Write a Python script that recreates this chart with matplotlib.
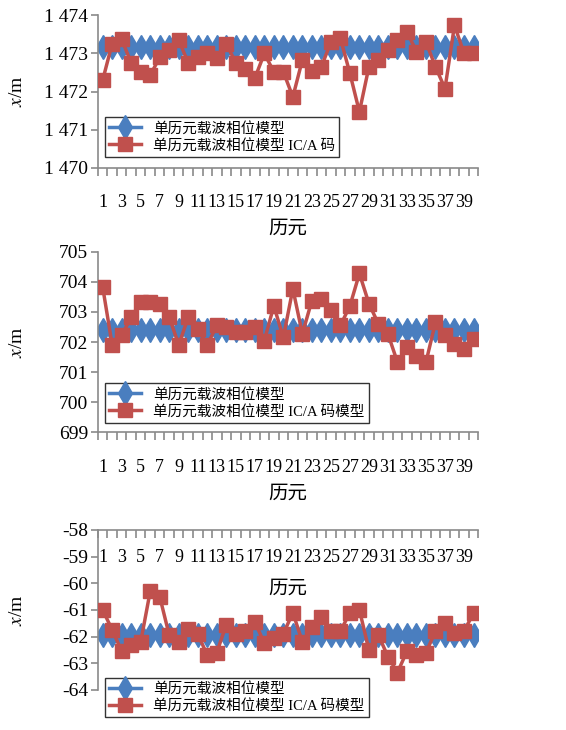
import matplotlib
matplotlib.use('Agg')
import matplotlib.pyplot as plt
from matplotlib.ticker import FuncFormatter

plt.rcParams['font.family'] = ['Liberation Serif', 'Noto Sans CJK SC']
plt.rcParams['mathtext.fontset'] = 'stix'
plt.rcParams['axes.unicode_minus'] = False

epochs = list(range(1, 41))

# panel 1
blue1 = [1473.17] * 40
red1 = [1472.30, 1473.26, 1473.37, 1472.75, 1472.52, 1472.43, 1472.90, 1473.10, 1473.35, 1472.75,
        1472.90, 1473.00, 1472.87, 1473.26, 1472.75, 1472.60, 1472.35, 1473.00, 1472.52, 1472.52,
        1471.86, 1472.83, 1472.55, 1472.65, 1473.30, 1473.40, 1472.48, 1471.47, 1472.65, 1472.83,
        1473.10, 1473.35, 1473.57, 1473.05, 1473.30, 1472.65, 1472.08, 1473.74, 1473.00, 1473.00]

# panel 2
blue2 = [702.4] * 40
red2 = [703.83, 701.90, 702.22, 702.83, 703.33, 703.33, 703.28, 702.83, 701.90, 702.83,
        702.44, 701.90, 702.55, 702.50, 702.33, 702.33, 702.50, 702.05, 703.20, 702.15,
        703.77, 702.27, 703.38, 703.44, 703.05, 702.55, 703.20, 704.28, 703.28, 702.60,
        702.27, 701.33, 701.83, 701.55, 701.33, 702.66, 702.22, 701.94, 701.77, 702.10]

# panel 3
blue3 = [-61.95] * 40
red3 = [-61.00, -61.75, -62.55, -62.30, -62.20, -60.30, -60.50, -61.95, -62.20, -61.70,
        -61.90, -62.70, -62.60, -61.55, -61.90, -61.80, -61.45, -62.25, -62.05, -61.90,
        -61.10, -62.20, -61.65, -61.28, -61.80, -61.80, -61.10, -61.00, -62.50, -61.95,
        -62.75, -63.35, -62.55, -62.70, -62.60, -61.80, -61.50, -61.85, -61.80, -61.12]

name_blue = '单历元载波相位模型'
names_red = ['单历元载波相位模型 IC/A 码', '单历元载波相位模型 IC/A 码模型', '单历元载波相位模型 IC/A 码模型']

BLUE = '#4a7ebf'
RED = '#c0504d'
GREY = '#8a8a8a'

fig = plt.figure(figsize=(5.66, 7.30), dpi=100)
boxes = [[0.173, 0.770, 0.672, 0.209],
         [0.173, 0.408, 0.672, 0.247],
         [0.173, 0.055, 0.672, 0.219]]
ylims = [(1470, 1474), (699, 705), (-64, -58)]
leg_y = [0.333, 0.272, 0.075]
tick_pad = [19, 19, 14]
lab_pad = [7, 7, 10]
series = [(blue1, red1), (blue2, red2), (blue3, red3)]

for k in range(3):
  ax = fig.add_axes(boxes[k])
  b, r = series[k]
  ax.plot(epochs, b, color=BLUE, lw=2.5, marker='d', ms=12, mec=BLUE, label=name_blue, zorder=2)
  ax.plot(epochs, r, color=RED, lw=2.5, marker='s', ms=10, mec=RED, label=names_red[k], zorder=3)
  ax.set_xlim(0.5, 40.5)
  ax.set_ylim(*ylims[k])
  ax.set_yticks(range(ylims[k][0], ylims[k][1] + 1))
  if k == 0:
    ax.yaxis.set_major_formatter(FuncFormatter(lambda v, p: '1 %03d' % (int(v) - 1000)))
  ax.set_xticks(range(1, 40, 2))
  ax.set_xticks([i + 0.5 for i in range(0, 41)], minor=True)
  ax.tick_params(axis='x', which='major', length=0, labelsize=13, pad=tick_pad[k])
  ax.tick_params(axis='x', which='minor', length=6, width=1.2, color=GREY, direction='out')
  ax.tick_params(axis='y', length=5, width=1.2, color=GREY, labelsize=14, pad=2)
  for s in ['top', 'right']:
    ax.spines[s].set_visible(False)
  for s in ['left', 'bottom']:
    ax.spines[s].set_color(GREY)
    ax.spines[s].set_linewidth(1.2)
  if k == 2:
    ax.spines['bottom'].set_position(('data', -58))
  ax.set_xlabel('历元', fontsize=14, labelpad=lab_pad[k])
  ax.set_ylabel(r'$x$/m', fontsize=14)
  ax.yaxis.set_label_coords(-0.19, 0.5)
  leg = ax.legend(loc='upper left', bbox_to_anchor=(0.018, leg_y[k]), fontsize=10.5,
                  handlelength=2.2, fancybox=False, edgecolor='#333333', framealpha=1,
                  borderpad=0.3, labelspacing=0.2, handletextpad=0.8, borderaxespad=0)
  leg.get_frame().set_linewidth(1.0)

fig.savefig('out.png', dpi=100)
